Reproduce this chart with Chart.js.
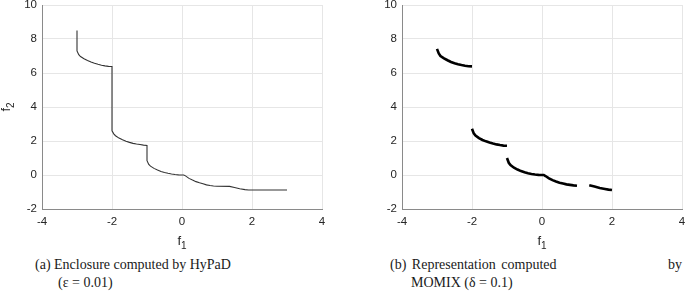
<!DOCTYPE html>
<html>
<head>
<meta charset="utf-8">
<script src="https://cdn.jsdelivr.net/npm/chart.js@4"></script>
<style>
  html, body { margin: 0; padding: 0; background: #fff; }
  body { width: 685px; height: 306px; position: relative; overflow: hidden; }
  .cv { position: absolute; top: 0; }
  .cap { position: absolute; font-family: "Liberation Serif", "Times New Roman", serif; font-size: 14px; color: #1a1a1a; white-space: nowrap; line-height: 18px; }
</style>
</head>
<body>
<canvas id="left" class="cv" width="340" height="256" style="left:0px"></canvas>
<canvas id="right" class="cv" width="345" height="256" style="left:340px"></canvas>

<div class="cap" style="left:35px; top:256px;">(a) Enclosure computed by HyPaD</div>
<div class="cap" style="left:58px; top:274px;">(ε = 0.01)</div>
<div class="cap" style="left:390px; top:256px; word-spacing:2px;">(b) Representation computed</div>
<div class="cap" style="left:668px; top:256px;">by</div>
<div class="cap" style="left:411px; top:274px;">MOMIX (δ = 0.1)</div>

<script>
// ---- axis settings ----
const xTicks = [-4, -2, 0, 2, 4];
const yTicks = [-2, 0, 2, 4, 6, 8, 10];

// ---- (a) HyPaD enclosure: one connected curve ----
const hypadF1 = [-3, -3, -2.95, -2.9, -2.8, -2.7, -2.6, -2.5, -2.4, -2.3, -2.2, -2.1, -2,
  -2, -1.95, -1.9, -1.8, -1.7, -1.6, -1.5, -1.4, -1.3, -1.2, -1.1, -1,
  -1, -0.95, -0.9, -0.8, -0.7, -0.6, -0.5, -0.4, -0.3, -0.2, -0.1, 0, 0.05,
  0.1, 0.2, 0.3, 0.4, 0.5, 0.6, 0.7, 0.8, 0.9, 1.0, 1.36, 1.5, 1.65, 1.8, 1.9, 3];
const hypadF2 = [8.5, 7.3, 7.08, 6.97, 6.84, 6.74, 6.65, 6.57, 6.51, 6.46, 6.42, 6.39, 6.38,
  2.6, 2.42, 2.31, 2.17, 2.07, 1.99, 1.92, 1.86, 1.82, 1.79, 1.76, 1.74,
  0.84, 0.62, 0.52, 0.39, 0.29, 0.21, 0.15, 0.1, 0.06, 0.03, 0.01, 0, 0,
  -0.05, -0.2, -0.3, -0.39, -0.46, -0.52, -0.58, -0.62, -0.65, -0.66, -0.67, -0.74, -0.81, -0.86, -0.88, -0.88];

// ---- (b) MOMIX representation: separate pieces ----
const momix1F1 = [-3, -2.95, -2.9, -2.8, -2.7, -2.6, -2.5, -2.4, -2.3, -2.2, -2.1, -2];
const momix1F2 = [7.42, 7.15, 7.0, 6.86, 6.75, 6.65, 6.58, 6.52, 6.47, 6.43, 6.40, 6.39];
const momix2F1 = [-2, -1.95, -1.9, -1.8, -1.7, -1.6, -1.5, -1.4, -1.3, -1.2, -1.1, -1];
const momix2F2 = [2.72, 2.45, 2.32, 2.17, 2.06, 1.98, 1.91, 1.85, 1.8, 1.76, 1.73, 1.72];
const momix3F1 = [-1, -0.95, -0.9, -0.8, -0.7, -0.6, -0.5, -0.4, -0.3, -0.2, -0.1, 0, 0.05,
  0.1, 0.2, 0.3, 0.4, 0.5, 0.6, 0.7, 0.8, 0.9, 1.0];
const momix3F2 = [1.0, 0.72, 0.58, 0.43, 0.32, 0.23, 0.16, 0.1, 0.06, 0.03, 0.01, 0, 0,
  -0.06, -0.2, -0.3, -0.38, -0.45, -0.5, -0.55, -0.58, -0.61, -0.63];
const momix4F1 = [1.35, 1.5, 1.65, 1.8, 1.9, 2];
const momix4F2 = [-0.6, -0.68, -0.76, -0.82, -0.86, -0.88];

function pts(xs, ys) { return xs.map((x, i) => ({ x: x, y: ys[i] })); }

const FONT = "'Liberation Sans', Arial, Helvetica, sans-serif";

const titlesPlugin = {
  id: 'subTitles',
  afterDraw(chart, args, opts) {
    const ctx = chart.ctx, a = chart.chartArea;
    ctx.save();
    ctx.fillStyle = '#262626';
    ctx.textBaseline = 'alphabetic';
    ctx.textAlign = 'left';
    const big = '13px ' + FONT, small = '10px ' + FONT;
    ctx.font = big;
    const fw = ctx.measureText('f').width;
    ctx.font = small;
    const sw1 = ctx.measureText('1').width;
    const cx = (a.left + a.right) / 2;
    const x0 = cx - (fw + sw1) / 2;
    ctx.font = big; ctx.fillText('f', x0, opts.xTitleY);
    ctx.font = small; ctx.fillText('1', x0 + fw, opts.xTitleY + 4);
    const cy = (a.top + a.bottom) / 2;
    ctx.translate(opts.yTitleX, cy);
    ctx.rotate(-Math.PI / 2);
    const sw2 = ctx.measureText('2').width;
    const y0 = -(fw + sw2) / 2;
    ctx.font = big; ctx.fillText('f', y0, 0);
    ctx.font = small; ctx.fillText('2', y0 + fw, 4);
    ctx.restore();
  }
};

function makeChart(id, datasets, yAxisWidth, padRight, yTitleX) {
  return new Chart(document.getElementById(id), {
    type: 'scatter',
    data: { datasets: datasets },
    options: {
      responsive: false,
      animation: false,
      devicePixelRatio: 1,
      layout: { padding: { top: 5, right: padRight, left: 0, bottom: 0 } },
      plugins: {
        legend: { display: false },
        tooltip: { enabled: false },
        subTitles: { xTitleY: 245, yTitleX: yTitleX }
      },
      elements: { point: { radius: 0 } },
      scales: {
        x: {
          type: 'linear', min: -4, max: 4,
          afterBuildTicks: s => { s.ticks = xTicks.map(v => ({ value: v })); },
          afterFit: s => { s.height = 47; s.paddingLeft = 0; s.paddingRight = 0; },
          grid: { color: '#e6e6e6', lineWidth: 1, drawTicks: false },
          border: { color: '#8a8a8a', width: 1 },
          ticks: { color: '#262626', font: { family: FONT, size: 11.5 }, padding: 6, maxRotation: 0 }
        },
        y: {
          type: 'linear', min: -2, max: 10,
          afterBuildTicks: s => { s.ticks = yTicks.map(v => ({ value: v })); },
          afterFit: s => { s.width = yAxisWidth; s.paddingTop = 0; s.paddingBottom = 0; },
          grid: { color: '#e6e6e6', lineWidth: 1, drawTicks: false },
          border: { color: '#8a8a8a', width: 1 },
          ticks: { color: '#262626', font: { family: FONT, size: 11.5 }, padding: 5 }
        }
      }
    },
    plugins: [titlesPlugin]
  });
}

const lineA = { showLine: true, borderColor: '#333333', borderWidth: 1.1, pointRadius: 0, fill: false, tension: 0 };
const lineB = { showLine: true, borderColor: '#000000', borderWidth: 2.6, pointRadius: 0, fill: false, tension: 0, borderCapStyle: 'butt' };

makeChart('left', [
  Object.assign({ data: pts(hypadF1, hypadF2) }, lineA)
], 42, 18, 10);

makeChart('right', [
  Object.assign({ data: pts(momix1F1, momix1F2) }, lineB),
  Object.assign({ data: pts(momix2F1, momix2F2) }, lineB),
  Object.assign({ data: pts(momix3F1, momix3F2) }, lineB),
  Object.assign({ data: pts(momix4F1, momix4F2) }, lineB)
], 62, 3, 368);
</script>
</body>
</html>
